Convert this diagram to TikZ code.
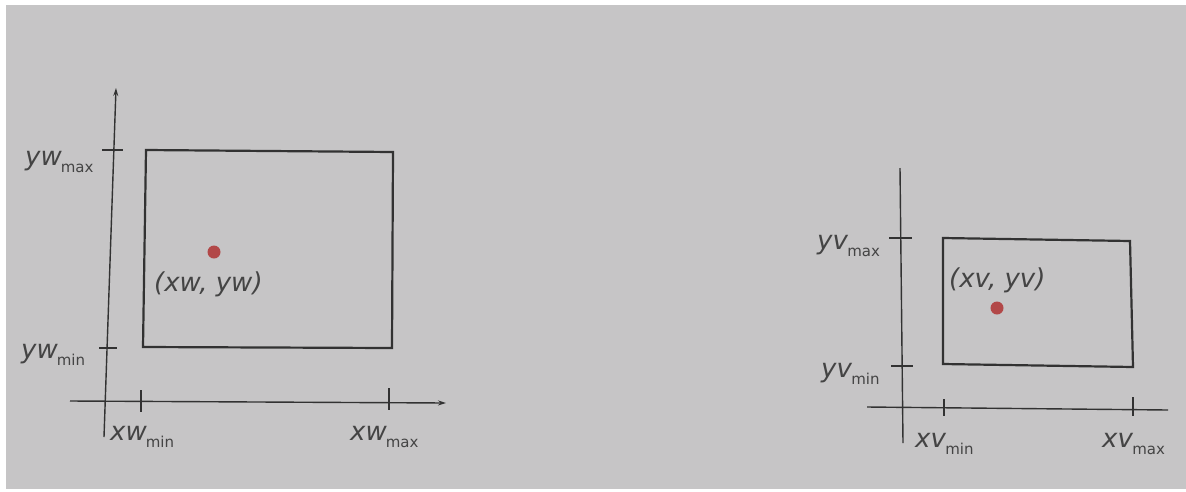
\documentclass[tikz,border=0pt]{standalone}
\usepackage{fontspec}
\setmainfont{DejaVu Sans}
\usetikzlibrary{arrows.meta}
\definecolor{paper}{RGB}{198,197,198}
\definecolor{ink}{RGB}{50,50,50}
\definecolor{txt}{RGB}{68,68,68}
\definecolor{dotred}{RGB}{178,72,72}
\newcommand\axlbl[2]{\textit{#1}\kern-1pt\raisebox{-0.3em}{\fontsize{15}{15}\selectfont #2}}
\tikzset{
  axis/.style={draw=ink, line width=1.4pt},
  frame/.style={draw=ink, line width=2.2pt},
  tick/.style={draw=ink, line width=1.2pt},
  lbl/.style={text=txt, font=\fontsize{26}{26}\selectfont, inner sep=0pt, anchor=base west},
  dot/.style={circle, fill=dotred, minimum size=13pt, inner sep=0pt},
}
\begin{document}
\begin{tikzpicture}[x=1pt,y=-1pt]
\fill[white] (0,0) rectangle (1186,491);
\fill[paper] (6,5) rectangle (1186,489);
\useasboundingbox (0,0) rectangle (1186,491);
% ---------- left: window ----------
\coordinate (wyT) at (116,88);
\coordinate (wyB) at (104,437);
\coordinate (wxL) at (70,401);
\coordinate (wxR) at (446,403);
\draw[axis,-{Stealth[length=8pt,width=5pt]}] (wyB) -- (wyT);
\draw[axis,-{Stealth[length=8pt,width=5pt]}] (wxL) -- (wxR);
\coordinate (w1) at (146,150);
\coordinate (w2) at (393,152);
\coordinate (w3) at (392,348);
\coordinate (w4) at (143,347);
\draw[frame] (w1) -- (w2) -- (w3) -- (w4) -- cycle;
\coordinate (t1a) at (102,150); \coordinate (t1b) at (123,150);
\coordinate (t2a) at (99,348);  \coordinate (t2b) at (117,348);
\coordinate (t3a) at (141,390); \coordinate (t3b) at (141,412);
\coordinate (t4a) at (389,388); \coordinate (t4b) at (389,410);
\draw[tick] (t1a) -- (t1b);
\draw[tick] (t2a) -- (t2b);
\draw[tick] (t3a) -- (t3b);
\draw[tick] (t4a) -- (t4b);
\node[lbl] (ywmax) at (25,165) {\axlbl{yw}{max}};
\node[lbl] (ywmin) at (21,358) {\axlbl{yw}{min}};
\node[lbl] (xwmin) at (110,440) {\axlbl{xw}{min}};
\node[lbl] (xwmax) at (350,440) {\axlbl{xw}{max}};
\node[dot] (pw) at (214,252) {};
\node[lbl] (pwl) at (154,291) {\textit{(xw, yw)}};
% ---------- right: viewport ----------
\coordinate (vyT) at (900,168);
\coordinate (vyB) at (903,443);
\coordinate (vxL) at (867,407);
\coordinate (vxR) at (1168,410);
\draw[axis] (vyB) -- (vyT);
\draw[axis] (vxL) -- (vxR);
\coordinate (v1) at (943,238);
\coordinate (v2) at (1130,241);
\coordinate (v3) at (1133,367);
\coordinate (v4) at (943,364);
\draw[frame] (v1) -- (v2) -- (v3) -- (v4) -- cycle;
\coordinate (s1a) at (889,238);  \coordinate (s1b) at (912,238);
\coordinate (s2a) at (891,366);  \coordinate (s2b) at (913,366);
\coordinate (s3a) at (944,399);  \coordinate (s3b) at (944,416);
\coordinate (s4a) at (1133,397); \coordinate (s4b) at (1133,416);
\draw[tick] (s1a) -- (s1b);
\draw[tick] (s2a) -- (s2b);
\draw[tick] (s3a) -- (s3b);
\draw[tick] (s4a) -- (s4b);
\node[lbl] (yvmax) at (817,249) {\axlbl{yv}{max}};
\node[lbl] (yvmin) at (821,377) {\axlbl{yv}{min}};
\node[lbl] (xvmin) at (915,447) {\axlbl{xv}{min}};
\node[lbl] (xvmax) at (1102,447) {\axlbl{xv}{max}};
\node[dot] (pv) at (997,308) {};
\node[lbl] (pvl) at (949,287) {\textit{(xv, yv)}};
\end{tikzpicture}
\end{document}
